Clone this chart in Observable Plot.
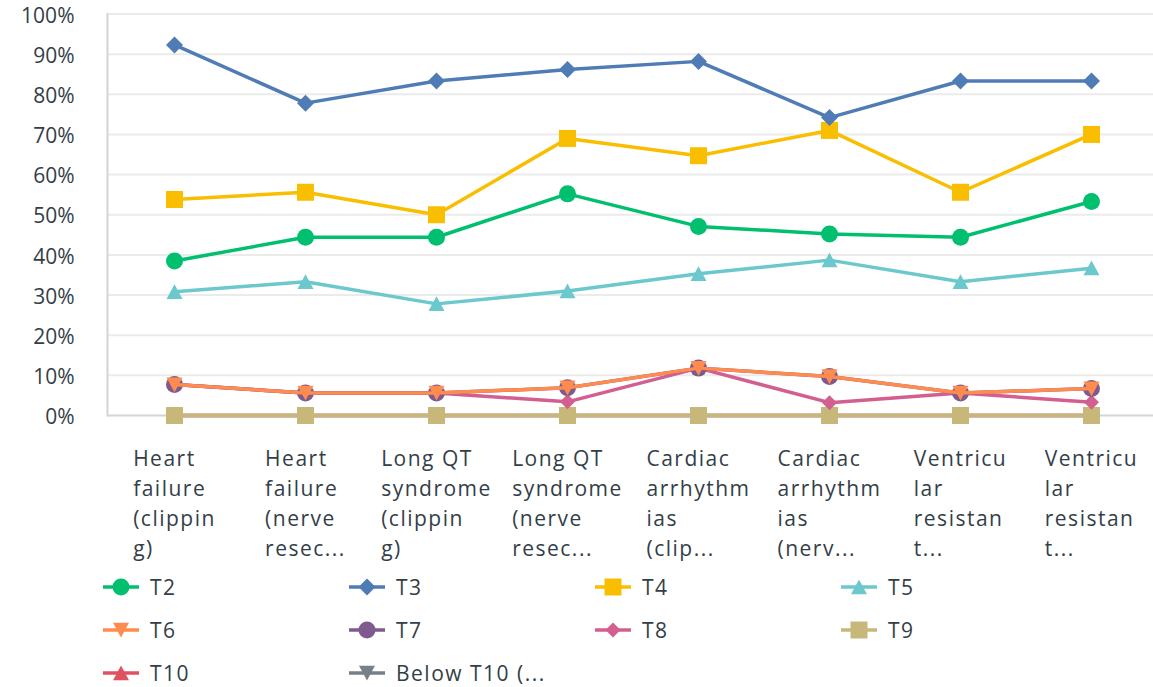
<!DOCTYPE html>
<html><head><meta charset="utf-8">
<script src="https://cdn.jsdelivr.net/npm/d3@7"></script>
<script src="https://cdn.jsdelivr.net/npm/@observablehq/plot@0.6"></script>
<style>
html,body{margin:0;background:#fff;font-family:"Open Sans",sans-serif;overflow:hidden;}
#chart svg{display:block;overflow:visible}
#legend{display:grid;grid-template-columns:repeat(4,246px);padding-left:103px;}
.item{height:43px;display:flex;align-items:center;font-size:21px;color:#333e48;white-space:nowrap;letter-spacing:1.5px}
.item svg{margin-right:11px;flex:none}
</style></head><body><div id="chart"></div><div id="legend"></div>
<script>
const categories = ["Heart failure (clipping)","Heart failure (nerve resec...)","Long QT syndrome (clipping)","Long QT syndrome (nerve resec...)","Cardiac arrhythmias (clip...)","Cardiac arrhythmias (nerv...)","Ventricular resistant... 1","Ventricular resistant... 2"];
const tickLabels = ["Heart\nfailure\n(clippin\ng)","Heart\nfailure\n(nerve\nresec...","Long QT\nsyndrome\n(clippin\ng)","Long QT\nsyndrome\n(nerve\nresec...","Cardiac\narrhythm\nias\n(clip...","Cardiac\narrhythm\nias\n(nerv...","Ventricu\nlar\nresistan\nt...","Ventricu\nlar\nresistan\nt..."];
const yTicks = [0,10,20,30,40,50,60,70,80,90,100];
const seriesNames = ["T2","T3","T4","T5","T6","T7","T8","T9","T10","Below T10 (..."];
const T2 = [38.5,44.4,44.4,55.2,47.1,45.2,44.4,53.3];
const T3 = [92.3,77.8,83.3,86.2,88.2,74.2,83.3,83.3];
const T4 = [53.8,55.6,50.0,69.0,64.7,71.0,55.6,70.0];
const T5 = [30.8,33.3,27.8,31.0,35.3,38.7,33.3,36.7];
const T6 = [7.7,5.6,5.6,6.9,11.8,9.7,5.6,6.7];
const T7 = [7.7,5.6,5.6,6.9,11.8,9.7,5.6,6.7];
const T8 = [7.7,5.6,5.6,3.4,11.8,3.2,5.6,3.3];
const T9 = [0,0,0,0,0,0,0,0];
const T10 = [0,0,0,0,0,0,0,0];
const BelowT10 = [0,0,0,0,0,0,0,0];
const seriesValues = [T2,T3,T4,T5,T6,T7,T8,T9,T10,BelowT10];
const colors = ["#00bf6f","#507cb6","#f9be00","#6bc8cd","#ff8b4f","#7f5a8f","#d25f90","#c7b879","#e05260","#768086"];
const shapes = ["circle","diamond","square","triangle","triangleDown","circle","diamond","square","triangle","triangleDown"];
const radii = [8.5,8.5,8.5,8,8,8.5,7.5,8.5,8,8];

const rad = s => Math.sqrt(s/Math.PI);
const symbolDefs = {
  circle: {draw(c,s){const r=rad(s);c.moveTo(r,0);c.arc(0,0,r,0,2*Math.PI);c.closePath();}},
  diamond: {draw(c,s){const r=rad(s);c.moveTo(0,-r);c.lineTo(r,0);c.lineTo(0,r);c.lineTo(-r,0);c.closePath();}},
  square: {draw(c,s){const r=rad(s);c.rect(-r,-r,2*r,2*r);}},
  triangle: {draw(c,s){const r=rad(s);c.moveTo(0,-r*0.95);c.lineTo(r,r*0.9);c.lineTo(-r,r*0.9);c.closePath();}},
  triangleDown: {draw(c,s){const r=rad(s);c.moveTo(0,r*0.95);c.lineTo(r,-r*0.9);c.lineTo(-r,-r*0.9);c.closePath();}}
};

const rows = seriesNames.flatMap((s,i)=>categories.map((c,j)=>({series:s,cat:c,v:seriesValues[i][j]})));
const labelOf = new Map(categories.map((c,i)=>[c,tickLabels[i]]));

const seriesMarks = [];
for (let i = seriesNames.length-1; i>=0; i--) {
  const d = rows.filter(r=>r.series===seriesNames[i]);
  seriesMarks.push(Plot.line(d,{x:"cat",y:"v",stroke:colors[i],strokeWidth:3.5}));
  seriesMarks.push(Plot.dot(d,{x:"cat",y:"v",fill:colors[i],stroke:"none",r:radii[i],symbol:symbolDefs[shapes[i]]}));
}

const chart = Plot.plot({
  width:1153, height:565,
  marginLeft:107, marginRight:-5, marginTop:13.5, marginBottom:150,
  style:{fontFamily:"Open Sans, sans-serif", fontSize:"21px", color:"#333e48", background:"#fff", overflow:"visible"},
  x:{type:"point", domain:categories, padding:0.5, label:null},
  y:{domain:[0,100], label:null},
  marks:[
    Plot.gridY(yTicks.slice(1),{stroke:"#ebebeb",strokeWidth:2,strokeOpacity:1}),
    Plot.ruleY([0],{stroke:"#d4d4d4",strokeWidth:2}),
    Plot.frame({anchor:"left",stroke:"#d4d4d4",strokeWidth:2}),
    Plot.axisY(yTicks,{tickSize:0,tickPadding:33,tickFormat:d=>d+"%",fill:"#333e48",fontSize:21,dy:2,label:null}),
    Plot.axisX({tickSize:0,tickPadding:29,tickFormat:c=>labelOf.get(c),textAnchor:"start",lineHeight:30/21,fill:"#333e48",fontSize:21,label:null}),
    ...seriesMarks
  ]
});
document.getElementById("chart").appendChild(chart);
// centre each left-aligned label block on its tick
chart.querySelectorAll('g[aria-label="x-axis tick label"] text').forEach(t=>{
  t.style.letterSpacing = "1.5px";
  const w = t.getBBox().width;
  const tr = t.getAttribute("transform")||"";
  t.setAttribute("transform", tr+` translate(${-w/2},0)`);
});

const legend = document.getElementById("legend");
seriesNames.forEach((s,i)=>{
  const item = document.createElement("div");
  item.className="item";
  const path = d3.symbol(symbolDefs[shapes[i]], radii[i]*radii[i]*Math.PI)();
  item.innerHTML = `<svg width="36" height="20" viewBox="0 0 36 20"><line x1="0" x2="36" y1="10" y2="10" stroke="${colors[i]}" stroke-width="3.5"/><path transform="translate(18,10)" d="${path}" fill="${colors[i]}"/></svg><span>${s}</span>`;
  legend.appendChild(item);
});
</script></body></html>
